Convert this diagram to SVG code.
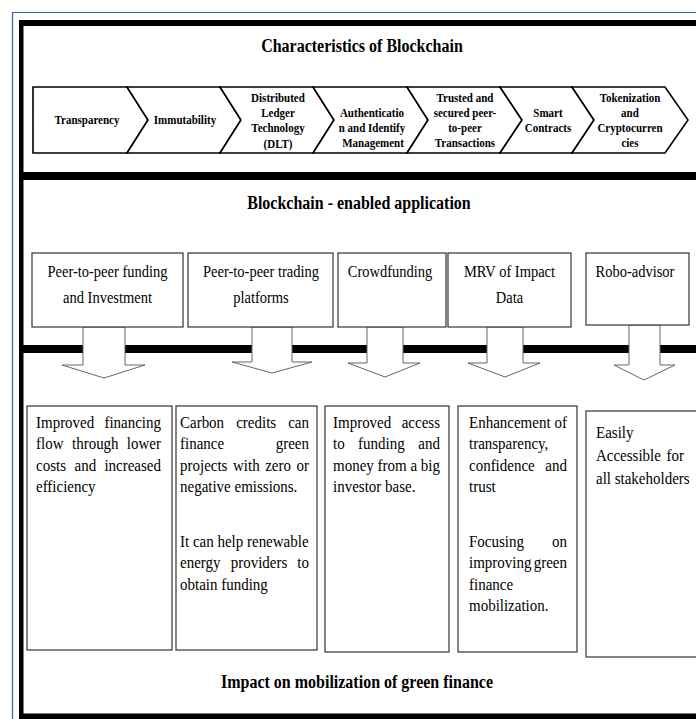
<svg xmlns="http://www.w3.org/2000/svg" width="696" height="719" viewBox="0 0 696 719">
<style>
.frame{fill:#000}
.chev{fill:#fff;stroke:#000;stroke-width:1.6;stroke-linejoin:miter}
.box{fill:#fff;stroke:#333;stroke-width:1.2}
.arrow{fill:#fff;stroke:#666;stroke-width:1}
text{transform-box:fill-box;transform-origin:0 80.5%}
.h{font-size:16px;font-weight:bold;text-anchor:middle;fill:#000;transform:scaleY(1.13)}
.c{font-size:11px;font-weight:bold;text-anchor:middle;fill:#000;transform:scaleY(1.15)}
.m{font-size:14.5px;text-anchor:middle;fill:#000;transform:scaleY(1.2)}
.t{font-size:15px;fill:#000;transform:scaleY(1.18)}
.e{text-anchor:end}
</style>
<rect width="696" height="719" fill="#fff"/>
<!-- outer frames -->
<g id="frame">
  <line x1="12" y1="12.5" x2="696" y2="12.5" stroke="#2f67a8" stroke-width="1.2"/>
  <line x1="12.5" y1="12" x2="12.5" y2="719" stroke="#2f67a8" stroke-width="1.2"/>
  <rect class="frame" x="19" y="20" width="677" height="6"/>
  <rect class="frame" x="19" y="20" width="4.5" height="699"/>
  <rect class="frame" x="19" y="713.5" width="677" height="6"/>
  <rect class="frame" x="23" y="172" width="673" height="8"/>
  <rect class="frame" x="23" y="345" width="673" height="8"/>
</g>
<!-- section titles -->
<g id="title-characteristics"><text font-family="Liberation Serif" class="h" x="362" y="52">Characteristics of Blockchain</text></g>
<g id="title-applications"><text font-family="Liberation Serif" class="h" x="359" y="209">Blockchain - enabled application</text></g>
<g id="title-impact"><text font-family="Liberation Serif" class="h" x="357" y="688">Impact on mobilization of green finance</text></g>

<!-- chevrons -->
<g id="chev-transparency">
  <polygon class="chev" points="33,87 127,87 148,120 127,153 33,153"/>
  <text font-family="Liberation Serif" class="c" x="87" y="124">Transparency</text>
</g>
<g id="chev-immutability">
  <polygon class="chev" points="127,87 220,87 241,120 220,153 127,153 148,120"/>
  <text font-family="Liberation Serif" class="c" x="185" y="124">Immutability</text>
</g>
<g id="chev-dlt">
  <polygon class="chev" points="220,87 313,87 334,120 313,153 220,153 241,120"/>
  <text font-family="Liberation Serif" class="c" x="278" y="102">Distributed</text>
  <text font-family="Liberation Serif" class="c" x="278" y="117">Ledger</text>
  <text font-family="Liberation Serif" class="c" x="278" y="132">Technology</text>
  <text font-family="Liberation Serif" class="c" x="278" y="148">(DLT)</text>
</g>
<g id="chev-auth">
  <polygon class="chev" points="313,87 407,87 428,120 407,153 313,153 334,120"/>
  <text font-family="Liberation Serif" class="c" x="372" y="117">Authenticatio</text>
  <text font-family="Liberation Serif" class="c" x="372" y="132">n and Identify</text>
  <text font-family="Liberation Serif" class="c" x="373" y="147">Management</text>
</g>
<g id="chev-trusted">
  <polygon class="chev" points="407,87 500,87 522,120 500,153 407,153 428,120"/>
  <text font-family="Liberation Serif" class="c" x="465" y="102">Trusted and</text>
  <text font-family="Liberation Serif" class="c" x="465" y="117">secured peer-</text>
  <text font-family="Liberation Serif" class="c" x="465" y="132">to-peer</text>
  <text font-family="Liberation Serif" class="c" x="465" y="147">Transactions</text>
</g>
<g id="chev-smart">
  <polygon class="chev" points="500,87 572,87 594,120 572,153 500,153 522,120"/>
  <text font-family="Liberation Serif" class="c" x="548" y="117">Smart</text>
  <text font-family="Liberation Serif" class="c" x="548" y="132">Contracts</text>
</g>
<g id="chev-token">
  <polygon class="chev" points="572,87 665,87 688,120 665,153 572,153 594,120"/>
  <text font-family="Liberation Serif" class="c" x="630" y="102">Tokenization</text>
  <text font-family="Liberation Serif" class="c" x="630" y="117">and</text>
  <text font-family="Liberation Serif" class="c" x="630" y="132">Cryptocurren</text>
  <text font-family="Liberation Serif" class="c" x="630" y="147">cies</text>
</g>

<!-- connectors: block arrows -->
<g id="connectors">
  <polygon class="arrow" points="83,327 125,327 125,365 145,365 104,378 62,365 83,365"/>
  <polygon class="arrow" points="252,327 292,327 292,362 312,362 272,373 232,362 252,362"/>
  <polygon class="arrow" points="367,327 403,327 403,363 420,363 385,377 348,363 367,363"/>
  <polygon class="arrow" points="487,327 523,327 523,363 540,363 505,377 468,363 487,363"/>
  <polygon class="arrow" points="629,325 660,325 660,365 675,365 644,380 614,365 629,365"/>
</g>

<!-- application boxes -->
<g id="app-p2p-funding">
  <rect class="box" x="32" y="253" width="151" height="74"/>
  <text font-family="Liberation Serif" class="m" x="107.5" y="277">Peer-to-peer funding</text>
  <text font-family="Liberation Serif" class="m" x="107.5" y="303">and Investment</text>
</g>
<g id="app-p2p-trading">
  <rect class="box" x="188" y="253" width="145" height="74"/>
  <text font-family="Liberation Serif" class="m" x="261" y="277">Peer-to-peer trading</text>
  <text font-family="Liberation Serif" class="m" x="261" y="303">platforms</text>
</g>
<g id="app-crowdfunding">
  <rect class="box" x="338" y="253" width="108" height="74"/>
  <text font-family="Liberation Serif" class="m" x="390" y="277">Crowdfunding</text>
</g>
<g id="app-mrv">
  <rect class="box" x="448" y="253" width="123" height="74"/>
  <text font-family="Liberation Serif" class="m" x="509.5" y="277">MRV of Impact</text>
  <text font-family="Liberation Serif" class="m" x="509.5" y="303">Data</text>
</g>
<g id="app-robo">
  <rect class="box" x="586" y="253" width="103" height="72"/>
  <text font-family="Liberation Serif" class="m" x="635" y="277">Robo-advisor</text>
</g>

<!-- impact boxes -->
<g id="impact-1">
  <rect class="box" x="27" y="406" width="145" height="244"/>
  <text font-family="Liberation Serif" class="t" x="36" y="428">Improved</text><text font-family="Liberation Serif" class="t e" x="161" y="428">financing</text>
  <text font-family="Liberation Serif" class="t" x="36" y="449.5">flow</text><text font-family="Liberation Serif" class="t" x="72" y="449.5">through</text><text font-family="Liberation Serif" class="t e" x="161" y="449.5">lower</text>
  <text font-family="Liberation Serif" class="t" x="36" y="471">costs</text><text font-family="Liberation Serif" class="t" x="74.5" y="471">and</text><text font-family="Liberation Serif" class="t e" x="161" y="471">increased</text>
  <text font-family="Liberation Serif" class="t" x="36" y="492.5">efficiency</text>
</g>
<g id="impact-2">
  <rect class="box" x="176" y="406" width="141" height="244"/>
  <text font-family="Liberation Serif" class="t" x="180" y="428">Carbon</text><text font-family="Liberation Serif" class="t" x="236.2" y="428">credits</text><text font-family="Liberation Serif" class="t e" x="309" y="428">can</text>
  <text font-family="Liberation Serif" class="t" x="180" y="449.5">finance</text><text font-family="Liberation Serif" class="t e" x="309" y="449.5">green</text>
  <text font-family="Liberation Serif" class="t" x="180" y="471">projects</text><text font-family="Liberation Serif" class="t" x="233" y="471">with</text><text font-family="Liberation Serif" class="t" x="265.2" y="471">zero</text><text font-family="Liberation Serif" class="t e" x="309" y="471">or</text>
  <text font-family="Liberation Serif" class="t" x="180" y="492.5">negative emissions.</text>
  <text font-family="Liberation Serif" class="t" x="180" y="547">It can help renewable</text>
  <text font-family="Liberation Serif" class="t" x="180" y="568.5">energy</text><text font-family="Liberation Serif" class="t" x="230.7" y="568.5">providers</text><text font-family="Liberation Serif" class="t e" x="309" y="568.5">to</text>
  <text font-family="Liberation Serif" class="t" x="180" y="590">obtain funding</text>
</g>
<g id="impact-3">
  <rect class="box" x="325" y="406" width="124" height="246"/>
  <text font-family="Liberation Serif" class="t" x="333" y="428">Improved</text><text font-family="Liberation Serif" class="t e" x="440" y="428">access</text>
  <text font-family="Liberation Serif" class="t" x="333" y="449.5">to</text><text font-family="Liberation Serif" class="t" x="358.1" y="449.5">funding</text><text font-family="Liberation Serif" class="t e" x="440" y="449.5">and</text>
  <text font-family="Liberation Serif" class="t" x="333" y="471">money from a big</text>
  <text font-family="Liberation Serif" class="t" x="333" y="492.5">investor base.</text>
</g>
<g id="impact-4">
  <rect class="box" x="458" y="406" width="119" height="246"/>
  <text font-family="Liberation Serif" class="t" x="469" y="428">Enhancement</text><text font-family="Liberation Serif" class="t e" x="567" y="428">of</text>
  <text font-family="Liberation Serif" class="t" x="469" y="449.5">transparency,</text>
  <text font-family="Liberation Serif" class="t" x="469" y="471">confidence</text><text font-family="Liberation Serif" class="t e" x="567" y="471">and</text>
  <text font-family="Liberation Serif" class="t" x="469" y="492.5">trust</text>
  <text font-family="Liberation Serif" class="t" x="469" y="547">Focusing</text><text font-family="Liberation Serif" class="t e" x="567" y="547">on</text>
  <text font-family="Liberation Serif" class="t" x="469" y="568.5">improving</text><text font-family="Liberation Serif" class="t e" x="567" y="568.5">green</text>
  <text font-family="Liberation Serif" class="t" x="469" y="590">finance</text>
  <text font-family="Liberation Serif" class="t" x="469" y="611.5">mobilization.</text>
</g>
<g id="impact-5">
  <rect class="box" x="586" y="411" width="120" height="246"/>
  <text font-family="Liberation Serif" class="t" x="596" y="438">Easily</text>
  <text font-family="Liberation Serif" class="t" x="596" y="461">Accessible</text><text font-family="Liberation Serif" class="t e" x="684" y="461">for</text>
  <text font-family="Liberation Serif" class="t" x="596" y="484">all stakeholders</text>
</g>
</svg>
